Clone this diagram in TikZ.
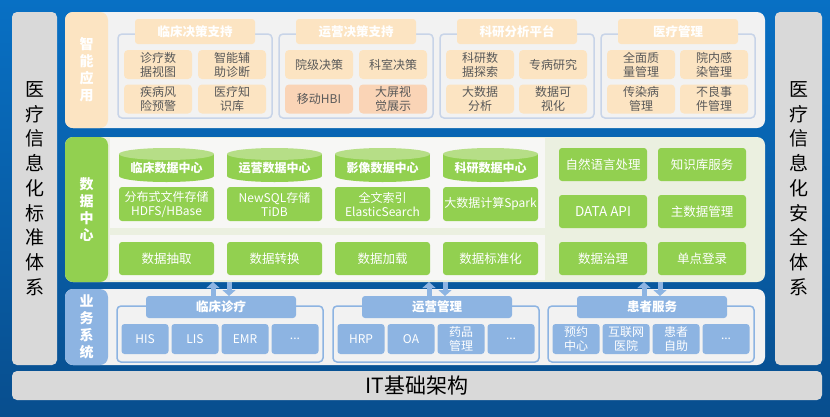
\documentclass[tikz,border=0pt]{standalone}
\usepackage{fontspec}
\setmainfont{Noto Sans CJK SC}
\usetikzlibrary{arrows.meta, positioning}

\definecolor{bgtop}{RGB}{8,112,196}
\definecolor{bgbottom}{RGB}{8,78,142}
\definecolor{sidegray}{RGB}{217,217,217}
\definecolor{apporange}{RGB}{252,228,194}
\definecolor{appdark}{RGB}{250,212,182}
\definecolor{appgray}{RGB}{242,242,242}
\definecolor{appline}{RGB}{200,212,232}
\definecolor{textgray}{RGB}{89,89,89}
\definecolor{dcgreen}{RGB}{146,208,80}
\definecolor{cyltop}{RGB}{182,222,135}
\definecolor{dcpale}{RGB}{235,240,224}
\definecolor{dcwhite}{RGB}{247,247,245}
\definecolor{bizblue}{RGB}{141,180,226}

\begin{document}
\begin{tikzpicture}[
  x=1pt, y=-1pt,
  every node/.style={inner sep=0pt, outer sep=0pt},
  sidebox/.style={fill=sidegray, rounded corners=5pt, align=center,
    font=\fontsize{19}{24.75}\selectfont},
  section/.style={rounded corners=8pt, minimum width=700pt},
  seclabel/.style={text=white, align=center, font=\bfseries\fontsize{14}{17}\selectfont},
  apptab/.style={fill=apporange, rounded corners=3pt, minimum width=120pt,
    minimum height=25pt, text=white, font=\bfseries\fontsize{12.5}{14}\selectfont},
  appframe/.style={draw=appline, line width=1.5pt, rounded corners=4pt,
    minimum width=154pt, minimum height=84pt},
  appitem/.style={fill=apporange, rounded corners=4pt, minimum width=68pt,
    minimum height=29pt, text=textgray, align=center, font=\fontsize{12}{14}\selectfont},
  dbcyl/.style={minimum width=95pt, minimum height=34pt, text=white,
    text height=16pt, text depth=1pt,
    font=\bfseries\fontsize{12}{14}\selectfont,
    path picture={
      \fill[dcgreen] ([yshift=-6pt]path picture bounding box.north west)
        rectangle ([yshift=6pt]path picture bounding box.south east);
      \fill[dcgreen] ([yshift=6pt]path picture bounding box.south) ellipse (47.5pt and 6pt);
      \fill[cyltop] ([yshift=-6pt]path picture bounding box.north) ellipse (47.5pt and 6pt);
    }},
  dcbox/.style={fill=dcgreen, rounded corners=3pt, minimum width=95pt,
    minimum height=33pt, text=white, align=center, font=\fontsize{12.5}{14}\selectfont},
  dcstore/.style={dcbox, minimum height=34pt, font=\fontsize{12}{14}\selectfont},
  dcside/.style={dcbox, minimum width=88pt},
  bizframe/.style={draw=bizblue, line width=1.5pt, rounded corners=4pt,
    minimum width=206pt, minimum height=56pt},
  biztab/.style={fill=bizblue, rounded corners=3pt, minimum width=150pt,
    minimum height=22pt, text=white, font=\bfseries\fontsize{12.5}{14}\selectfont},
  bizitem/.style={fill=bizblue, rounded corners=3pt, minimum width=47pt,
    minimum height=30pt, text=white, align=center, font=\fontsize{12}{14}\selectfont},
  bizarrow/.style={-{Triangle[width=13pt,length=6pt]}, line width=5pt, color=bizblue}
  ]

  % background
  \shade[top color=bgtop, bottom color=bgbottom] (0,0) rectangle (830,416);

  % side panels and base
  \node[sidebox, minimum width=45pt, minimum height=353pt] (stdsys) at (34.5,188.5)
    {医\\疗\\信\\息\\化\\标\\准\\体\\系};
  \node[sidebox, minimum width=47pt, minimum height=353pt] (secsys) at (798.5,188.5)
    {医\\疗\\信\\息\\化\\安\\全\\体\\系};
  \node[sidebox, minimum width=810pt, minimum height=29pt,
    font=\fontsize{21}{24}\selectfont] (infra) at (417,385.5) {IT基础架构};

  % sections
  \node[section, minimum height=116pt, fill=appgray,
    path picture={\fill[apporange] (path picture bounding box.north west)
      rectangle ([xshift=43pt]path picture bounding box.south west);}] (appsec) at (415,70) {};
  \node[seclabel] (applbl) at (86.5,70) {智\\能\\应\\用};

  \node[section, minimum height=145pt, fill=dcpale,
    path picture={\fill[dcgreen] (path picture bounding box.north west)
      rectangle ([xshift=43pt]path picture bounding box.south west);}] (dcsec) at (415,209.5) {};
  \node[seclabel] (dclbl) at (86.5,209.5) {数\\据\\中\\心};
  \fill[dcwhite] (110,138) rectangle (545,228);
  \fill[dcwhite] (110,235) rectangle (545,280);

  \node[section, minimum height=76pt, fill=appgray,
    path picture={\fill[bizblue] (path picture bounding box.north west)
      rectangle ([xshift=43pt]path picture bounding box.south west);}] (bizsec) at (415,327) {};
  \node[seclabel] (bizlbl) at (86.5,327) {业\\务\\系\\统};

  % smart applications
  \node[appframe] (cdsframe) at (195,76) {};
  \node[apptab] (cds) at (195,31.5) {临床决策支持};
  \node[appitem] (cds1) at (158,64.5) {诊疗数\\据视图};
  \node[appitem] (cds2) at (232,64.5) {智能辅\\助诊断};
  \node[appitem] (cds3) at (158,99) {疾病风\\险预警};
  \node[appitem] (cds4) at (232,99) {医疗知\\识库};

  \node[appframe] (odsframe) at (356,76) {};
  \node[apptab] (ods) at (356,31.5) {运营决策支持};
  \node[appitem] (ods1) at (319,64.5) {院级决策};
  \node[appitem] (ods2) at (393,64.5) {科室决策};
  \node[appitem, fill=appdark] (ods3) at (319,99) {移动HBI};
  \node[appitem, fill=appdark] (ods4) at (393,99) {大屏视\\觉展示};

  \node[appframe] (resframe) at (517,76) {};
  \node[apptab] (res) at (517,31.5) {科研分析平台};
  \node[appitem] (res1) at (480,64.5) {科研数\\据探索};
  \node[appitem] (res2) at (553,64.5) {专病研究};
  \node[appitem] (res3) at (480,99) {大数据\\分析};
  \node[appitem] (res4) at (553,99) {数据可\\视化};

  \node[appframe] (mgtframe) at (678,76) {};
  \node[apptab] (mgt) at (678,31.5) {医疗管理};
  \node[appitem] (mgt1) at (641,64.5) {全面质\\量管理};
  \node[appitem] (mgt2) at (714,64.5) {院内感\\染管理};
  \node[appitem] (mgt3) at (641,99) {传染病\\管理};
  \node[appitem] (mgt4) at (714,99) {不良事\\件管理};

  % data center
  \node[dbcyl] (cdr) at (166.5,165) {临床数据中心};
  \node[dbcyl] (odr) at (274.5,165) {运营数据中心};
  \node[dbcyl] (idr) at (382.5,165) {影像数据中心};
  \node[dbcyl] (rdr) at (490.5,165) {科研数据中心};
  \node[dcstore] (cdrstore) at (166.5,204) {分布式文件存储\\HDFS/HBase};
  \node[dcstore] (odrstore) at (274.5,204) {NewSQL存储\\TiDB};
  \node[dcstore] (idrstore) at (382.5,204) {全文索引\\ElasticSearch};
  \node[dcstore] (rdrstore) at (490.5,204) {大数据计算Spark};
  \node[dcbox] (extract) at (166.5,258.5) {数据抽取};
  \node[dcbox] (transform) at (274.5,258.5) {数据转换};
  \node[dcbox] (load) at (382.5,258.5) {数据加载};
  \node[dcbox] (normalize) at (490.5,258.5) {数据标准化};
  \node[dcside] (nlp) at (603,164.5) {自然语言处理};
  \node[dcside] (kbs) at (702,164.5) {知识库服务};
  \node[dcside, font=\fontsize{13.5}{14}\selectfont] (api) at (603,211.5) {DATA API};
  \node[dcside] (mdm) at (702,211.5) {主数据管理};
  \node[dcside] (gov) at (603,258.5) {数据治理};
  \node[dcside] (sso) at (702,258.5) {单点登录};

  % business systems
  \node[bizframe] (clinframe) at (220,334) {};
  \node[biztab] (clin) at (221,307) {临床诊疗};
  \node[bizitem] (his) at (145,339) {HIS};
  \node[bizitem] (lis) at (195,339) {LIS};
  \node[bizitem] (emr) at (245,339) {EMR};
  \node[bizitem] (clinmore) at (295,339) {...};

  \node[bizframe] (opsframe) at (436,334) {};
  \node[biztab] (ops) at (437,307) {运营管理};
  \node[bizitem] (hrp) at (361,339) {HRP};
  \node[bizitem] (oa) at (411,339) {OA};
  \node[bizitem] (drug) at (461,339) {药品\\管理};
  \node[bizitem] (opsmore) at (511,339) {...};

  \node[bizframe] (patframe) at (651,334) {};
  \node[biztab] (pat) at (652,307) {患者服务};
  \node[bizitem] (appoint) at (576,339) {预约\\中心};
  \node[bizitem] (ihosp) at (626,339) {互联网\\医院};
  \node[bizitem] (selfsvc) at (676,339) {患者\\自助};
  \node[bizitem] (patmore) at (726,339) {...};

  % exchange with data center
  \draw[bizarrow] ([xshift=-8pt]clin.north) -- ([xshift=-8pt]clin.north |- dcsec.south);
  \draw[bizarrow] ([xshift=8pt]clin.north |- dcsec.south) -- ([xshift=8pt]clin.north);
  \draw[bizarrow] ([xshift=-8pt]ops.north) -- ([xshift=-8pt]ops.north |- dcsec.south);
  \draw[bizarrow] ([xshift=8pt]ops.north |- dcsec.south) -- ([xshift=8pt]ops.north);
  \draw[bizarrow] ([xshift=-8pt]pat.north) -- ([xshift=-8pt]pat.north |- dcsec.south);
  \draw[bizarrow] ([xshift=8pt]pat.north |- dcsec.south) -- ([xshift=8pt]pat.north);

\end{tikzpicture}
\end{document}
